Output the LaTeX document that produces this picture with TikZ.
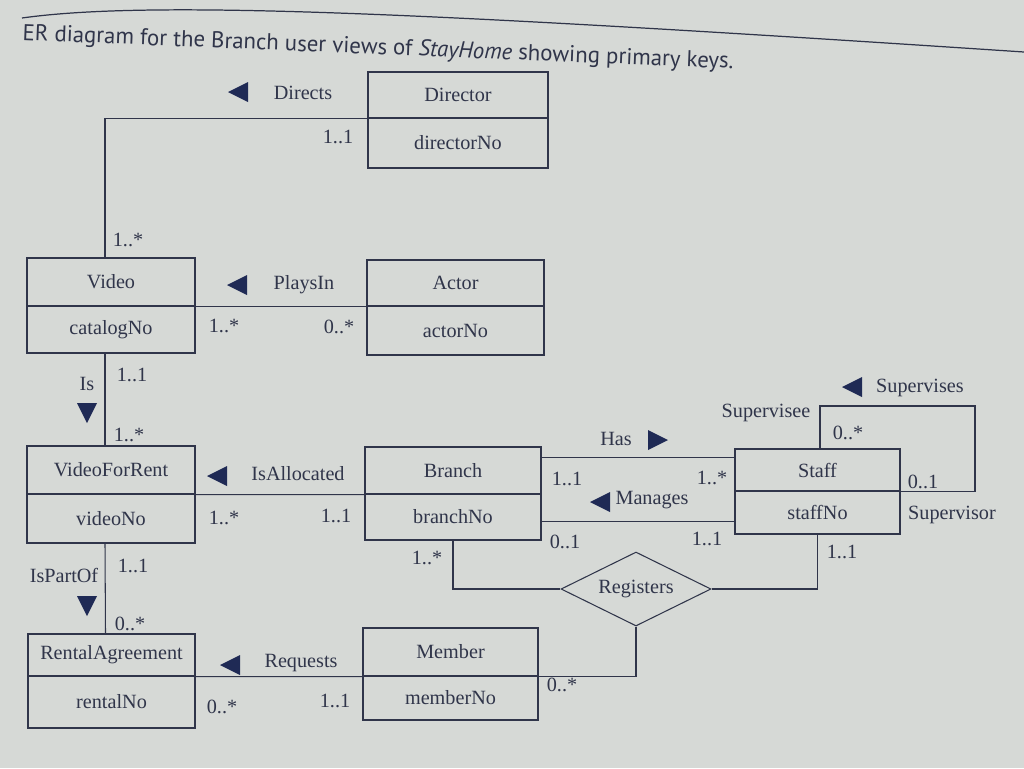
\documentclass[tikz,border=0pt]{standalone}
\usepackage{fontspec}
\setmainfont{Liberation Serif}
\newfontfamily\titlefont{PT Sans}
\usetikzlibrary{shapes.geometric}
\definecolor{paper}{HTML}{D6D9D6}
\definecolor{ink}{HTML}{30354A}
\definecolor{navy}{HTML}{1F2A55}
\begin{document}
\begin{tikzpicture}[x=0.02cm,y=-0.02cm,
  font=\fontsize{11.5}{13}\selectfont,
  part/.style={draw=ink, line width=0.6pt, inner sep=0pt, align=center, text=ink},
  lbl/.style={inner sep=0pt, text=ink},
  conn/.style={draw=ink, line width=0.6pt},
  triL/.pic={\fill[navy] (-10,0) -- (10,-10) -- (10,10) -- cycle;},
  triR/.pic={\fill[navy] (10,0) -- (-10,-10) -- (-10,10) -- cycle;},
  triD/.pic={\fill[navy] (0,10) -- (-10,-10) -- (10,-10) -- cycle;}]
\useasboundingbox[fill=paper] (0,0) rectangle (1024,768);

% title and rule
\draw[ink, line width=0.7pt] (22,18) .. controls (150,0) and (420,12) .. (1024,52);
\node[lbl, anchor=base west, rotate=-2.3, font=\titlefont\fontsize{13}{15}\selectfont] (title) at (22,40)
  {ER diagram for the Branch user views of \textit{StayHome} showing primary keys.};

% entities
\node[part, minimum width=3.6cm,  minimum height=0.92cm] (dir)   at (458,95)    {Director};
\node[part, minimum width=3.6cm,  minimum height=1.0cm]  (dirk)  at (458,143)   {directorNo};
\node[part, minimum width=3.36cm, minimum height=0.96cm] (vid)   at (111,282)   {Video};
\node[part, minimum width=3.36cm, minimum height=0.94cm] (vidk)  at (111,329.5) {catalogNo};
\node[part, minimum width=3.54cm, minimum height=0.92cm] (act)   at (455.5,283) {Actor};
\node[part, minimum width=3.54cm, minimum height=0.98cm] (actk)  at (455.5,330.5) {actorNo};
\node[part, minimum width=3.36cm, minimum height=0.96cm] (vfr)   at (111,470)   {VideoForRent};
\node[part, minimum width=3.36cm, minimum height=0.98cm] (vfrk)  at (111,518.5) {videoNo};
\node[part, minimum width=3.52cm, minimum height=0.94cm] (br)    at (453,470.5) {Branch};
\node[part, minimum width=3.52cm, minimum height=0.92cm] (brk)   at (453,517)   {branchNo};
\node[part, minimum width=3.3cm,  minimum height=0.84cm] (st)    at (817.5,470) {Staff};
\node[part, minimum width=3.3cm,  minimum height=0.86cm] (stk)   at (817.5,512.5) {staffNo};
\node[part, minimum width=3.34cm, minimum height=0.84cm] (ra)    at (111.5,655) {RentalAgreement};
\node[part, minimum width=3.34cm, minimum height=1.04cm] (rak)   at (111.5,702) {rentalNo};
\node[part, minimum width=3.5cm,  minimum height=0.96cm] (mem)   at (450.5,652) {Member};
\node[part, minimum width=3.5cm,  minimum height=0.88cm] (memk)  at (450.5,698) {memberNo};
\node[part, diamond, aspect=2, minimum width=3.0cm, minimum height=1.48cm] (reg) at (636,589) {Registers};

% connectors
\draw[conn] ([xshift=-0.12cm]vid.north) |- (dir.south west);
\draw[conn] (vid.south east) -- (act.south west);
\draw[conn] ([xshift=-0.12cm]vidk.south) -- ([xshift=-0.12cm]vfr.north);
\draw[conn] (vfr.south east) -- (br.south west);
\draw[conn] ([xshift=-0.12cm]vfrk.south) -- ([xshift=-0.12cm]ra.north);
\draw[conn] (ra.south east) -- (mem.south west);
\draw[conn] ([yshift=-0.22cm]br.north east) coordinate (hasA) -- (hasA -| st.west);
\draw[conn] ([yshift=0.38cm]brk.south east) coordinate (manA) -- (manA -| stk.west);
\coordinate (supC) at (975,406);
\draw[conn] ([xshift=0.05cm]st.north) |- (supC) |- (st.south east);
\draw[conn] (brk.south) |- (reg.west);
\draw[conn] (reg.east) -| (stk.south);
\draw[conn] (reg.south) |- (mem.south east);

% relationship names and arrows
\pic at (238,92) {triL};
\node[lbl] (lDirects) at (303,93) {Directs};
\pic at (237,285) {triL};
\node[lbl] (lPlays) at (304,285) {PlaysIn};
\node[lbl] (lIs) at (87,384) {Is};
\pic at (87,413) {triD};
\pic at (217,476) {triL};
\node[lbl] (lAlloc) at (298,474) {IsAllocated};
\node[lbl] (lHas) at (616,439) {Has};
\pic at (658,440) {triR};
\pic at (600,502) {triL};
\node[lbl] (lMan) at (652,500) {Manages};
\pic at (852,387) {triL};
\node[lbl] (lSup) at (920,388) {Supervises};
\node[lbl] (lPart) at (64,575) {IsPartOf};
\pic at (87,606) {triD};
\pic at (230,665) {triL};
\node[lbl] (lReq) at (301,663) {Requests};

% role names
\node[lbl] (rSee) at (766,413) {Supervisee};
\node[lbl] (rSor) at (952,515) {Supervisor};

% multiplicities
\node[lbl] (m1)  at (338,137) {1..1};
\node[lbl] (m2)  at (128,240) {1..*};
\node[lbl] (m3)  at (224,326) {1..*};
\node[lbl] (m4)  at (339,327) {0..*};
\node[lbl] (m5)  at (132,375) {1..1};
\node[lbl] (m6)  at (129,435) {1..*};
\node[lbl] (m7)  at (224,518) {1..*};
\node[lbl] (m8)  at (336,516) {1..1};
\node[lbl] (m9)  at (567,479) {1..1};
\node[lbl] (m10) at (712,478) {1..*};
\node[lbl] (m11) at (565,542) {0..1};
\node[lbl] (m12) at (707,539) {1..1};
\node[lbl] (m13) at (848,433) {0..*};
\node[lbl] (m14) at (923,482) {0..1};
\node[lbl] (m15) at (842,552) {1..1};
\node[lbl] (m16) at (427,558) {1..*};
\node[lbl] (m17) at (133,566) {1..1};
\node[lbl] (m18) at (130,624) {0..*};
\node[lbl] (m19) at (222,707) {0..*};
\node[lbl] (m20) at (335,701) {1..1};
\node[lbl] (m21) at (562,685) {0..*};
\end{tikzpicture}
\end{document}
